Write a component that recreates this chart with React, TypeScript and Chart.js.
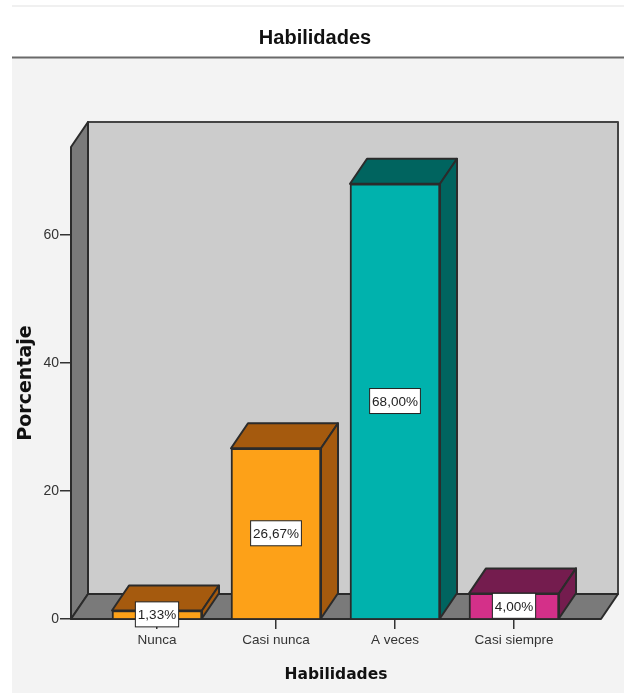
import { useEffect, useRef } from "react";
import { Chart, registerables } from "chart.js";

Chart.register(...registerables);

const categories = ["Nunca", "Casi nunca", "A veces", "Casi siempre"];
const percentages = [1.33, 26.67, 68.0, 4.0];
const frontColors = ["#fda118", "#fda118", "#00b2ad", "#d43089"];
const shadeColors = ["#a55a0e", "#a55a0e", "#00645f", "#741c4e"];
const yTicks = [0, 20, 40, 60];

const DEPTH_X = 17;
const DEPTH_Y = 25;
const OUTLINE = "#2b2b2b";
const LABEL_FONT = '13.5px "Liberation Sans", Arial, sans-serif';

function poly(ctx: CanvasRenderingContext2D, pts: number[][], fill: string, stroke = OUTLINE, lw = 2) {
  ctx.beginPath();
  pts.forEach(([x, y], i) => (i ? ctx.lineTo(x, y) : ctx.moveTo(x, y)));
  ctx.closePath();
  ctx.fillStyle = fill;
  ctx.fill();
  ctx.lineWidth = lw;
  ctx.strokeStyle = stroke;
  ctx.lineJoin = "round";
  ctx.stroke();
}

// Page panel behind the whole chart: header band, rule and grey body.
const panel = {
  id: "panel",
  beforeDraw(chart: any) {
    const { ctx, width, height } = chart;
    ctx.save();
    ctx.fillStyle = "#ffffff";
    ctx.fillRect(0, 0, width, height);
    ctx.fillStyle = "#f0f0f0";
    ctx.fillRect(12, 5, width - 12, 2);
    ctx.fillStyle = "#f3f3f3";
    ctx.fillRect(12, 58, width - 12, height - 58);
    ctx.fillStyle = "#6a6a6a";
    ctx.fillRect(12, 56.5, width - 12, 2);
    ctx.restore();
  },
};

// Box walls, floor and the receding faces of every bar.
const depthFaces = {
  id: "depthFaces",
  beforeDatasetsDraw(chart: any) {
    const { ctx, chartArea: a } = chart;
    const bl = a.left + DEPTH_X;
    const br = a.right + DEPTH_X;
    const bt = a.top - DEPTH_Y;
    const bb = a.bottom - DEPTH_Y;
    ctx.save();
    poly(ctx, [[bl, bt], [br, bt], [br, bb], [bl, bb]], "#cccccc", "#444444");
    poly(ctx, [[a.left, a.top], [bl, bt], [bl, bb], [a.left, a.bottom]], "#7a7a7a");
    poly(ctx, [[a.left, a.bottom], [a.right, a.bottom], [br, bb], [bl, bb]], "#7a7a7a");
    chart.getDatasetMeta(0).data.forEach((bar: any, i: number) => {
      const half = bar.width / 2;
      const l = bar.x - half;
      const r = bar.x + half;
      const shade = shadeColors[i];
      poly(ctx, [[l, bar.y], [r, bar.y], [r + DEPTH_X, bar.y - DEPTH_Y], [l + DEPTH_X, bar.y - DEPTH_Y]], shade);
      poly(ctx, [[r, bar.y], [r + DEPTH_X, bar.y - DEPTH_Y], [r + DEPTH_X, bar.base - DEPTH_Y], [r, bar.base]], shade);
    });
    ctx.restore();
  },
};

// White percentage tags centred on the front face of each bar.
const valueTags = {
  id: "valueTags",
  afterDatasetsDraw(chart: any) {
    const { ctx } = chart;
    ctx.save();
    ctx.font = LABEL_FONT;
    ctx.textAlign = "center";
    ctx.textBaseline = "middle";
    chart.getDatasetMeta(0).data.forEach((bar: any, i: number) => {
      const text = percentages[i].toFixed(2).replace(".", ",") + "%";
      const w = ctx.measureText(text).width + 5;
      const h = 25;
      const cy = (bar.y + bar.base) / 2;
      ctx.fillStyle = "#ffffff";
      ctx.fillRect(bar.x - w / 2, cy - h / 2, w, h);
      ctx.strokeStyle = "#222222";
      ctx.lineWidth = 1;
      ctx.strokeRect(bar.x - w / 2, cy - h / 2, w, h);
      ctx.fillStyle = "#222222";
      ctx.fillText(text, bar.x, cy + 1);
    });
    ctx.restore();
  },
};

export default function App() {
  const ref = useRef<HTMLCanvasElement>(null);

  useEffect(() => {
    const chart = new Chart(ref.current as HTMLCanvasElement, {
      type: "bar",
      data: {
        datasets: [
          {
            data: categories.map((_, i) => ({ x: i, y: percentages[i] })),
            backgroundColor: frontColors,
            borderColor: OUTLINE,
            borderWidth: 2,
            barThickness: 90,
          },
        ],
      },
      plugins: [panel, depthFaces, valueTags],
      options: {
        animation: false,
        responsive: false,
        events: [],
        layout: { padding: { left: 29, right: 23, top: 0, bottom: 0 } },
        plugins: {
          legend: { display: false },
          tooltip: { enabled: false },
          title: {
            display: true,
            text: "Habilidades",
            color: "#111111",
            font: { family: '"Liberation Sans", Arial, sans-serif', size: 20, weight: "bold" },
            padding: { top: 26, bottom: 97 },
          },
        },
        scales: {
          x: {
            type: "linear",
            offset: false,
            min: -0.7227,
            max: 3.731,
            afterBuildTicks: (axis: any) => {
              axis.ticks = categories.map((_, i) => ({ value: i }));
            },
            afterFit: (axis: any) => {
              axis.height = 74;
            },
            grid: { offset: false, drawOnChartArea: false, drawTicks: true, tickLength: 10, color: "#333333", lineWidth: 1.5 },
            border: { display: false },
            ticks: {
              autoSkip: false,
              maxRotation: 0,
              padding: 3,
              color: "#333333",
              font: { family: '"Liberation Sans", Arial, sans-serif', size: 13.5 },
              callback: (value: any) => categories[value],
            },
            title: {
              display: true,
              text: "Habilidades",
              color: "#111111",
              font: { family: '"DejaVu Sans", sans-serif', size: 15.5, weight: "bold" },
              padding: { top: 0, bottom: 9 },
            },
          },
          y: {
            min: 0,
            max: 73.75,
            afterBuildTicks: (axis: any) => {
              axis.ticks = yTicks.map((value) => ({ value }));
            },
            afterFit: (axis: any) => {
              axis.width = 42;
            },
            grid: { drawOnChartArea: false, drawTicks: true, tickLength: 11, color: "#333333", lineWidth: 1.5 },
            border: { display: false },
            ticks: {
              padding: 1,
              color: "#333333",
              font: { family: '"Liberation Sans", Arial, sans-serif', size: 14 },
            },
            title: {
              display: true,
              text: "Porcentaje",
              color: "#111111",
              font: { family: '"DejaVu Sans", sans-serif', size: 19, weight: "bold" },
              padding: { top: -14, bottom: 0 },
            },
          },
        },
      },
    } as any);
    return () => chart.destroy();
  }, []);

  return (
    <canvas
      ref={ref}
      width={624}
      height={693}
      style={{ position: "absolute", left: 0, top: 0, width: 624, height: 693 }}
    />
  );
}
